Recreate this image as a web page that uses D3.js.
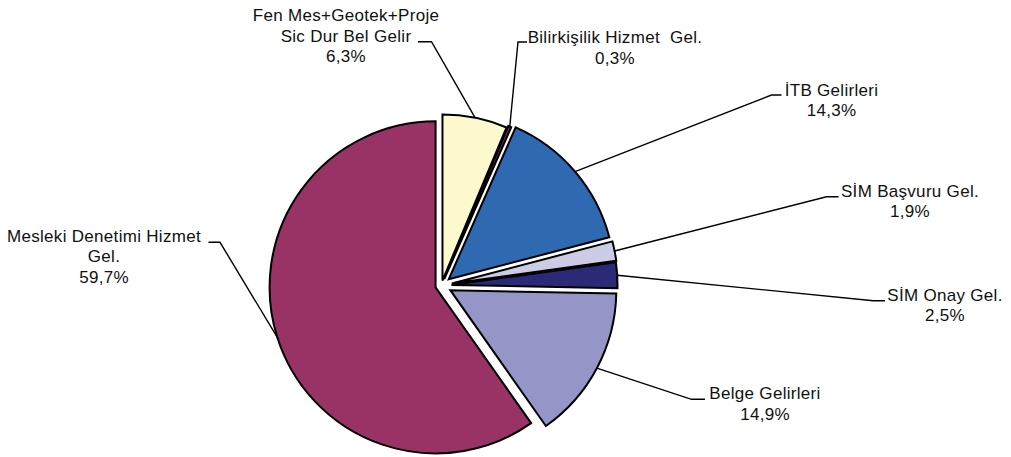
<!DOCTYPE html>
<html>
<head>
<meta charset="utf-8">
<script src="https://cdn.jsdelivr.net/npm/d3@7"></script>
<style>
  html, body { margin: 0; padding: 0; background: #ffffff; }
  svg { display: block; }
  text { font-family: "Liberation Sans", Arial, sans-serif; font-size: 17px; letter-spacing: 0.3px; fill: #111111; }
</style>
</head>
<body>
<svg id="chart" width="1011" height="457"></svg>
<script>
// ---- data ----
const categories = [
  "Fen Mes+Geotek+Proje\nSic Dur Bel Gelir",
  "Bilirkişilik Hizmet  Gel.",
  "İTB Gelirleri",
  "SİM Başvuru Gel.",
  "SİM Onay Gel.",
  "Belge Gelirleri",
  "Mesleki Denetimi Hizmet\nGel."
];
const values = [6.3, 0.3, 14.3, 1.9, 2.5, 14.9, 59.7];

// ---- styling / layout ----
const palette = ["#fdf9cf", "#7e1f72", "#2f69b1", "#cccce6", "#2a2a77", "#9595c8", "#993365"];
const explode = [5, 7, 9.5, 10.5, 10, 10, 6.2];
const center = { x: 441.5, y: 285.5 };
const radius = 166;
const lineHeight = 20.7;
// label text centre x, first baseline y, and leader stub (label side -> elbow)
const labelLayout = [
  { cx: 346, by: 21,    sx: 418, sy: 41.7, ex: 431.5 },
  { cx: 615, by: 43,    sx: 527, sy: 42,   ex: 518 },
  { cx: 831.5, by: 95.7, sx: 781.5, sy: 95,  ex: 771.5 },
  { cx: 910, by: 196.7, sx: 838.5, sy: 196.7, ex: 826.5 },
  { cx: 945, by: 300.7, sx: 885, sy: 300.7, ex: 873.3 },
  { cx: 765, by: 399.3, sx: 705, sy: 399.3, ex: 691.5 },
  { cx: 104, by: 241.7, sx: 208.5, sy: 242.3, ex: 220 }
];

const svg = d3.select("#chart");
const pie = d3.pie().sort(null).value(d => d).startAngle(0).endAngle(2 * Math.PI);
const arcs = pie(values);
const arc = d3.arc().innerRadius(0).outerRadius(radius);
const fmt = v => d3.format(".1f")(v).replace(".", ",") + "%";

const dir = a => [Math.sin(a), -Math.cos(a)];

const g = svg.append("g");
arcs.forEach((d, i) => {
  const mid = (d.startAngle + d.endAngle) / 2;
  const [ux, uy] = dir(mid);
  const ox = center.x + ux * explode[i];
  const oy = center.y + uy * explode[i];
  d.ox = ox; d.oy = oy; d.mid = mid;
  g.append("path")
    .attr("d", arc(d))
    .attr("transform", `translate(${ox},${oy})`)
    .attr("fill", palette[i])
    .attr("stroke", "#000")
    .attr("stroke-width", 2)
    .attr("stroke-linejoin", "miter");
});

// leader lines
arcs.forEach((d, i) => {
  const [ux, uy] = dir(d.mid);
  const px = d.ox + ux * radius;
  const py = d.oy + uy * radius;
  const L = labelLayout[i];
  svg.append("polyline")
    .attr("points", `${px},${py} ${L.ex},${L.sy} ${L.sx},${L.sy}`)
    .attr("fill", "none")
    .attr("stroke", "#000")
    .attr("stroke-width", 1.4);
});

// labels
arcs.forEach((d, i) => {
  const L = labelLayout[i];
  const lines = categories[i].split("\n").concat([fmt(values[i])]);
  const t = svg.append("text").attr("text-anchor", "middle");
  lines.forEach((ln, k) => {
    t.append("tspan")
      .attr("x", L.cx)
      .attr("y", L.by + k * lineHeight)
      .attr("xml:space", "preserve")
      .style("white-space", "pre")
      .text(ln);
  });
});
</script>
</body>
</html>
